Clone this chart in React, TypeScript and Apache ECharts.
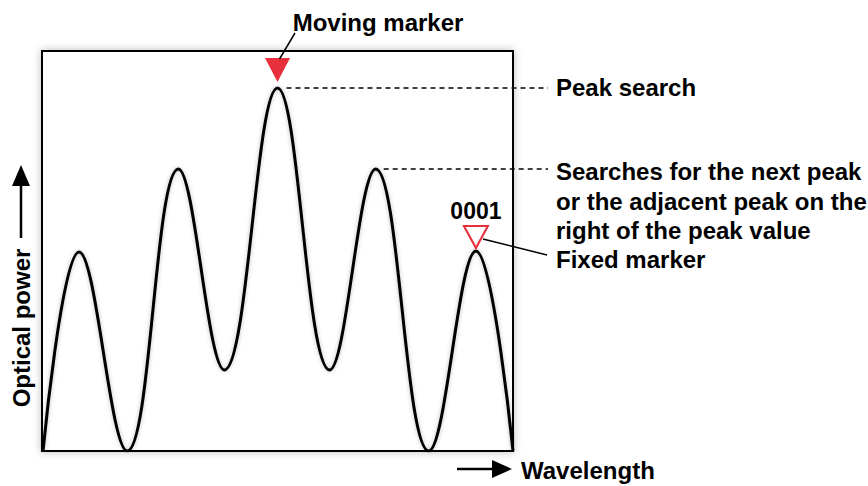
import React, { useEffect, useRef } from "react";
import * as echarts from "echarts";

// Spectrum key points (arbitrary units): wavelength and optical power
const wavelength = [1, 37, 85, 136, 182, 235, 287, 333, 386, 433, 470];
const power = [0, 199, 0, 282, 81, 363, 81, 282, 0, 200, 0];

// Markers: [wavelength, power]
const movingMarker = [235, 381];
const fixedMarker = [433, 214];
const fixedMarkerLabel = "0001";

// Annotated peaks (indices into arrays above)
const peakSearchIndex = 5;
const nextPeakIndex = 7;

const annotations = {
  moving: "Moving marker",
  peak: "Peak search",
  next: ["Searches for the next peak", "or the adjacent peak on the", "right of the peak value"],
  fixed: "Fixed marker",
  yName: "Optical power",
  xName: "Wavelength",
};

const RED = "#e8303c";
const FONT = 'bold 24px "Liberation Sans", Arial, sans-serif';

export default function App() {
  const ref = useRef<HTMLDivElement>(null);
  useEffect(() => {
    if (!ref.current) return;
    const chart = echarts.init(ref.current, null, { renderer: "svg" });
    const lineData = wavelength.map((w, i) => [w, power[i]]);
    chart.setOption({
      animation: false,
      backgroundColor: "#fff",
      grid: {
        left: 42,
        right: 355,
        top: 51,
        bottom: 35,
        show: true,
        backgroundColor: "#fff",
        borderColor: "#000",
        borderWidth: 2,
        shadowBlur: 8,
        shadowColor: "rgba(0,0,0,0.25)",
      },
      xAxis: { type: "value", min: 0, max: 470, show: false },
      yAxis: { type: "value", min: 0, max: 400, show: false },
      series: [
        {
          type: "line",
          data: lineData,
          smooth: 0.4,
          symbol: "none",
          lineStyle: {
            color: "#000",
            width: 3,
            shadowBlur: 4,
            shadowColor: "rgba(0,0,0,0.25)",
          },
          z: 2,
        },
        {
          type: "scatter",
          data: [movingMarker],
          symbol: "triangle",
          symbolRotate: 180,
          symbolSize: [25, 24],
          itemStyle: { color: RED, opacity: 1 },
          z: 3,
        },
        {
          type: "scatter",
          data: [fixedMarker],
          symbol: "triangle",
          symbolRotate: 180,
          symbolSize: [24, 22],
          itemStyle: { color: "#fff", borderColor: RED, borderWidth: 2, opacity: 1 },
          label: {
            show: true,
            position: "top",
            distance: 3,
            formatter: () => fixedMarkerLabel,
            color: "#000",
            opacity: 1,
            fontFamily: '"Liberation Sans", Arial, sans-serif',
            fontWeight: "bold",
            fontSize: 23,
          },
          z: 3,
        },
      ],
    });

    const px = (p: number[]) => chart.convertToPixel({ gridIndex: 0 }, p) as number[];
    const peak = px([wavelength[peakSearchIndex], power[peakSearchIndex]]);
    const next = px([wavelength[nextPeakIndex], power[nextPeakIndex]]);
    const mm = px(movingMarker);
    const fm = px(fixedMarker);
    const textX = 556;
    const dashEnd = 548;
    const txt = (text: string, x: number, y: number, align = "left") => ({
      type: "text",
      x,
      y,
      style: { text, font: FONT, fill: "#000", align, verticalAlign: "middle" },
      z: 10,
    });
    const line = (x1: number, y1: number, x2: number, y2: number, dashed = false, w = 1.5) => ({
      type: "line",
      shape: { x1, y1, x2, y2 },
      style: { stroke: "#000", lineWidth: w, lineDash: dashed ? [5, 4] : null },
      z: 10,
    });

    chart.setOption({
      graphic: [
        txt(annotations.moving, 378, 22, "center"),
        line(mm[0] + 2, mm[1] - 11, 295, 33),
        line(peak[0] + 9, peak[1], dashEnd, peak[1], true),
        txt(annotations.peak, textX, peak[1] - 1),
        line(next[0] + 8, next[1], dashEnd, next[1], true),
        txt(annotations.next[0], textX, 171),
        txt(annotations.next[1], textX, 201),
        txt(annotations.next[2], textX, 230),
        line(fm[0] + 7, fm[1] + 2, 547, 255),
        txt(annotations.fixed, textX, 259),
        {
          type: "text",
          x: 21,
          y: 328,
          rotation: Math.PI / 2,
          style: { text: annotations.yName, font: FONT, fill: "#000", align: "center", verticalAlign: "middle" },
          z: 10,
        },
        line(21, 238, 21, 180, false, 2.5),
        {
          type: "polygon",
          shape: { points: [[21, 165], [12, 186], [30, 186]] },
          style: { fill: "#000" },
          z: 10,
        },
        line(457, 469, 497, 469, false, 2.5),
        {
          type: "polygon",
          shape: { points: [[512, 469], [492, 460], [492, 478]] },
          style: { fill: "#000" },
          z: 10,
        },
        txt(annotations.xName, 521, 470),
      ],
    });
    return () => chart.dispose();
  }, []);
  return <div ref={ref} style={{ position: "fixed", left: 0, top: 0, width: 868, height: 486 }} />;
}
